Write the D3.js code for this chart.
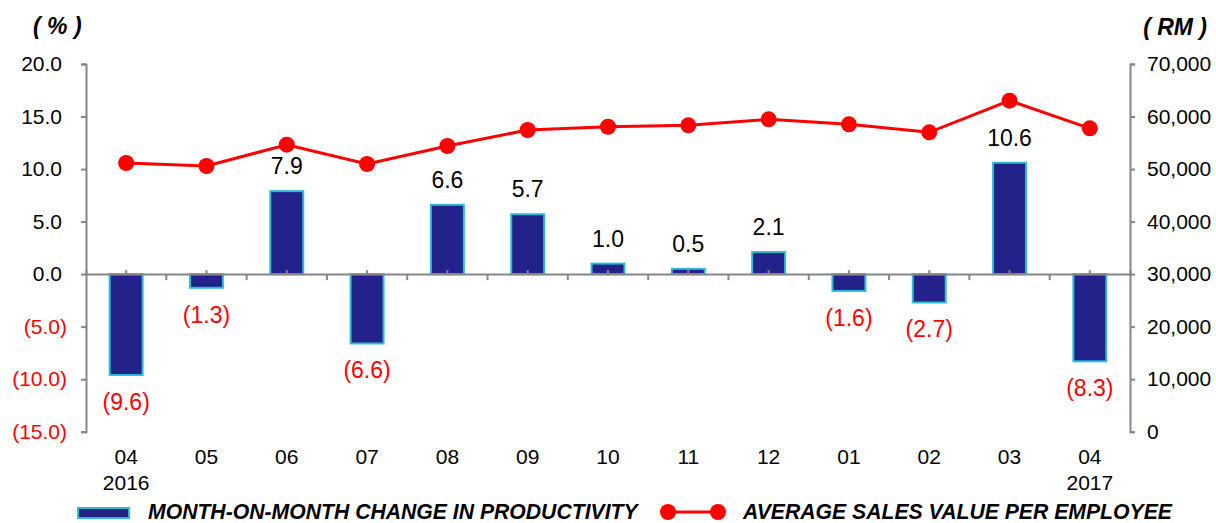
<!DOCTYPE html>
<html>
<head>
<meta charset="utf-8">
<script src="https://cdn.jsdelivr.net/npm/d3@7"></script>
<style>
  body { margin: 0; background: #fff; }
  svg { font-family: "Liberation Sans", Arial, sans-serif; }
</style>
</head>
<body>
<div id="plot"></div>
<script>
// data
var months = ["04", "05", "06", "07", "08", "09", "10", "11", "12", "01", "02", "03", "04"];
var years = ["2016", "", "", "", "", "", "", "", "", "", "", "", "2017"];
var productivityChange = [-9.6, -1.3, 7.9, -6.6, 6.6, 5.7, 1.0, 0.5, 2.1, -1.6, -2.7, 10.6, -8.3];
var salesPerEmployee = [51150, 50580, 54640, 50960, 54390, 57440, 58060, 58330, 59470, 58520, 57000, 63010, 57760];
var leftTicks = [-15, -10, -5, 0, 5, 10, 15, 20];
var rightTicks = [0, 10000, 20000, 30000, 40000, 50000, 60000, 70000];
var legendLabels = ["MONTH-ON-MONTH CHANGE IN PRODUCTIVITY", "AVERAGE SALES VALUE PER EMPLOYEE"];

var width = 1216, height = 523;
var margin = {left: 86, right: 86, top: 64, bottom: 91.3};
var axisColor = "#868686", barFill = "#22228A", barStroke = "#2DBAD6", red = "#FF0000";

var svg = d3.select("#plot").append("svg")
    .attr("width", width)
    .attr("height", height);

var idx = d3.range(months.length);
var x = d3.scaleBand().domain(idx).range([margin.left, width - margin.right]);
var yL = d3.scaleLinear().domain([-15, 20]).range([height - margin.bottom, margin.top]);
var yR = d3.scaleLinear().domain([0, 70000]).range([height - margin.bottom, margin.top]);
var barW = x.bandwidth() * 0.41;
var cx = function(d, i) { return x(i) + x.bandwidth() / 2; };

function pct(v) {
    return v < 0 ? "(" + d3.format(".1f")(-v) + ")" : d3.format(".1f")(v);
}

// left axis
var gL = svg.append("g")
    .attr("transform", "translate(" + margin.left + ",0)")
    .call(d3.axisLeft(yL).tickValues(leftTicks).tickSize(5).tickFormat(pct));
gL.select(".domain").attr("stroke", axisColor).attr("stroke-width", 2);
gL.selectAll(".tick line").attr("stroke", axisColor).attr("stroke-width", 2);
gL.selectAll(".tick text")
    .attr("font-size", 21)
    .attr("x", function(d) { return d < 0 ? -19 : -24; })
    .attr("fill", function(d) { return d < 0 ? red : "#000"; });

// right axis
var gR = svg.append("g")
    .attr("transform", "translate(" + (width - margin.right) + ",0)")
    .call(d3.axisRight(yR).tickValues(rightTicks).tickSize(5).tickFormat(d3.format(",")));
gR.select(".domain").attr("stroke", axisColor).attr("stroke-width", 2);
gR.selectAll(".tick line").attr("stroke", axisColor).attr("stroke-width", 2);
gR.selectAll(".tick text").attr("font-size", 21).attr("x", 17).attr("fill", "#000");

// bars
svg.append("g").selectAll("rect")
    .data(productivityChange)
    .enter().append("rect")
    .attr("x", function(d, i) { return x(i) + (x.bandwidth() - barW) / 2; })
    .attr("y", function(d) { return yL(Math.max(0, d)); })
    .attr("width", barW)
    .attr("height", function(d) { return Math.abs(yL(d) - yL(0)); })
    .attr("fill", barFill)
    .attr("stroke", barStroke)
    .attr("stroke-width", 2);

// category axis along zero line
var gX = svg.append("g")
    .attr("transform", "translate(0," + yL(0) + ")")
    .call(d3.axisBottom(x).tickSize(-4).tickFormat(""));
gX.select(".domain").attr("stroke", axisColor).attr("stroke-width", 2);
gX.selectAll(".tick line").attr("stroke", axisColor).attr("stroke-width", 2);
gX.selectAll(".bound")
    .data(d3.range(1, months.length))
    .enter().append("line")
    .attr("x1", function(i) { return x(i); })
    .attr("x2", function(i) { return x(i); })
    .attr("y1", 0).attr("y2", 6)
    .attr("stroke", axisColor).attr("stroke-width", 2);

// category labels
var labs = svg.append("g").attr("font-size", 21).attr("text-anchor", "middle");
labs.selectAll(".m").data(months).enter().append("text")
    .attr("x", cx)
    .attr("y", 464)
    .text(function(d) { return d; });
labs.selectAll(".yr").data(years).enter().append("text")
    .attr("x", cx)
    .attr("y", 490)
    .text(function(d) { return d; });

// bar value labels
svg.append("g").attr("font-size", 23).attr("text-anchor", "middle")
    .selectAll("text").data(productivityChange).enter().append("text")
    .attr("x", cx)
    .attr("y", function(d) { return d < 0 ? yL(d) + 35 : yL(d) - 17; })
    .attr("fill", function(d) { return d < 0 ? red : "#000"; })
    .text(pct);

// line
var line = d3.line()
    .x(cx)
    .y(function(d) { return yR(d); });
svg.append("path")
    .datum(salesPerEmployee)
    .attr("d", line)
    .attr("fill", "none")
    .attr("stroke", red)
    .attr("stroke-width", 3);
svg.append("g").selectAll("circle")
    .data(salesPerEmployee).enter().append("circle")
    .attr("cx", cx)
    .attr("cy", function(d) { return yR(d); })
    .attr("r", 8)
    .attr("fill", red);

// axis titles
svg.append("text").attr("x", 33).attr("y", 34)
    .attr("font-size", 23).attr("font-weight", "bold").attr("font-style", "italic")
    .text("( % )");
svg.append("text").attr("x", 1207).attr("y", 35).attr("text-anchor", "end")
    .attr("font-size", 23).attr("font-weight", "bold").attr("font-style", "italic")
    .text("( RM )");

// legend
var lg = svg.append("g").attr("font-size", 21.2).attr("font-weight", "bold").attr("font-style", "italic");
lg.append("rect").attr("x", 78).attr("y", 508).attr("width", 51).attr("height", 10)
    .attr("fill", barFill).attr("stroke", barStroke).attr("stroke-width", 2);
lg.append("text").attr("x", 148).attr("y", 519).text(legendLabels[0]);
lg.append("line").attr("x1", 668).attr("x2", 718).attr("y1", 512).attr("y2", 512)
    .attr("stroke", red).attr("stroke-width", 3);
lg.selectAll("circle").data([668, 718]).enter().append("circle")
    .attr("cx", function(d) { return d; }).attr("cy", 512).attr("r", 8).attr("fill", red);
lg.append("text").attr("x", 743).attr("y", 519).text(legendLabels[1]);
</script>
</body>
</html>
